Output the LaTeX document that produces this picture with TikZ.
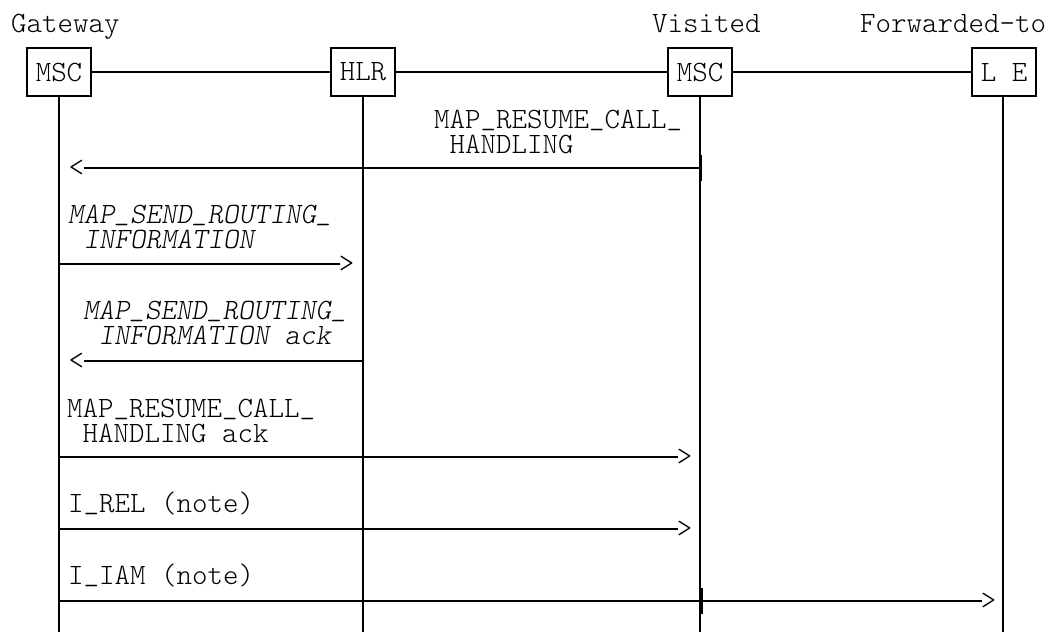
\documentclass[tikz,border=0pt]{standalone}
\usepackage{fontspec}
\setmonofont{lmmonolt10-regular}[Extension=.otf, ItalicFont=lmmonolt10-oblique]
\newcommand\usc{\raisebox{3pt}{\_}}
\newcommand\twolines[2]{\begin{tabular}[t]{@{}l@{}}#1\\\hspace*{0.525em}#2\end{tabular}}
\begin{document}
\begin{tikzpicture}[x=1pt,y=-1pt,
  txt/.style={font=\ttfamily\fontsize{29.5}{24}\selectfont},
  lbl/.style={txt, inner sep=0pt, anchor=base west},
  ilbl/.style={lbl, font=\ttfamily\itshape\fontsize{29.5}{24}\selectfont},
  ent/.style={txt, draw, line width=1.8pt, minimum width=64pt, minimum height=48pt, inner sep=0pt},
  life/.style={line width=1.1pt},
  msg/.style={line width=1.8pt},
  tick/.style={line width=1.6pt},
  headr/.style={txt, inner sep=0pt, anchor=west, xshift=-2pt},
  headl/.style={txt, inner sep=0pt, anchor=east, xshift=1pt}]
\useasboundingbox (0,0) rectangle (1051,632);
% titles
\node[lbl] (tg) at (11,32) {Gateway};
\node[lbl] (tv) at (652,32) {Visited};
\node[lbl] (tf) at (860,32) {Forwarded-to};
% entities
\node[ent] (gm) at (59,72) {MSC};
\node[ent] (hlr) at (363,72) {HLR};
\node[ent] (vm) at (700,72) {MSC};
\node[ent] (le) at (1004,72) {L E};
\draw[msg] (gm) -- (hlr);
\draw[msg] (hlr) -- (vm);
\draw[msg] (vm) -- (le);
% lifeline ends
\coordinate (gend) at (59,632);
\coordinate (hend) at (363,632);
\coordinate (vend) at (700,632);
\coordinate (lend) at (1003,632);
\draw[life] (gm.south -| gend) -- (gend);
\draw[life] (hlr.south -| hend) -- (hend);
\draw[life] (vm.south -| vend) -- (vend);
\draw[life] (le.south -| lend) -- (lend);
% message points
\coordinate (g1) at (59,168);  \coordinate (h1) at (363,168); \coordinate (v1) at (701,168);
\coordinate (g2) at (59,264);  \coordinate (h2) at (363,264);
\coordinate (g3) at (59,361);  \coordinate (h3) at (363,361);
\coordinate (g4) at (59,457);  \coordinate (h4) at (363,457); \coordinate (v4) at (699,457);
\coordinate (g5) at (59,529);  \coordinate (h5) at (363,529); \coordinate (v5) at (699,529);
\coordinate (g6) at (59,601);  \coordinate (h6) at (363,601); \coordinate (v6) at (702,601); \coordinate (l6) at (1003,601);
% ticks on lifelines
\foreach \p in {h1,v1,g2,h3,g4,h4,g5,h5,g6,h6,v6}
  \draw[tick] ([yshift=-13pt]\p) -- ([yshift=13pt]\p);
% messages
\node[lbl] (m1) at (434,128) {\twolines{MAP\usc RESUME\usc CALL\usc}{HANDLING}};
\draw[msg] (v1) -- ([xshift=25pt]g1) node[headl] (a1) {<};

\node[ilbl] (m2) at (68,223) {\twolines{MAP\usc SEND\usc ROUTING\usc}{INFORMATION}};
\draw[msg] (g2) -- ([xshift=-23pt]h2) node[headr] (a2) {>};

\node[ilbl] (m3) at (83,319) {\twolines{MAP\usc SEND\usc ROUTING\usc}{INFORMATION ack}};
\draw[msg] (h3) -- ([xshift=25pt]g3) node[headl] (a3) {<};

\node[lbl] (m4) at (67,417) {\twolines{MAP\usc RESUME\usc CALL\usc}{HANDLING ack}};
\draw[msg] (g4) -- ([xshift=-21pt]v4) node[headr] (a4) {>};

\node[lbl] (m5) at (68,512) {I\usc REL (note)};
\draw[msg] (g5) -- ([xshift=-21pt]v5) node[headr] (a5) {>};

\node[lbl] (m6) at (68,584) {I\usc IAM (note)};
\draw[msg] (g6) -- ([xshift=-21pt]l6) node[headr] (a6) {>};
\end{tikzpicture}
\end{document}
